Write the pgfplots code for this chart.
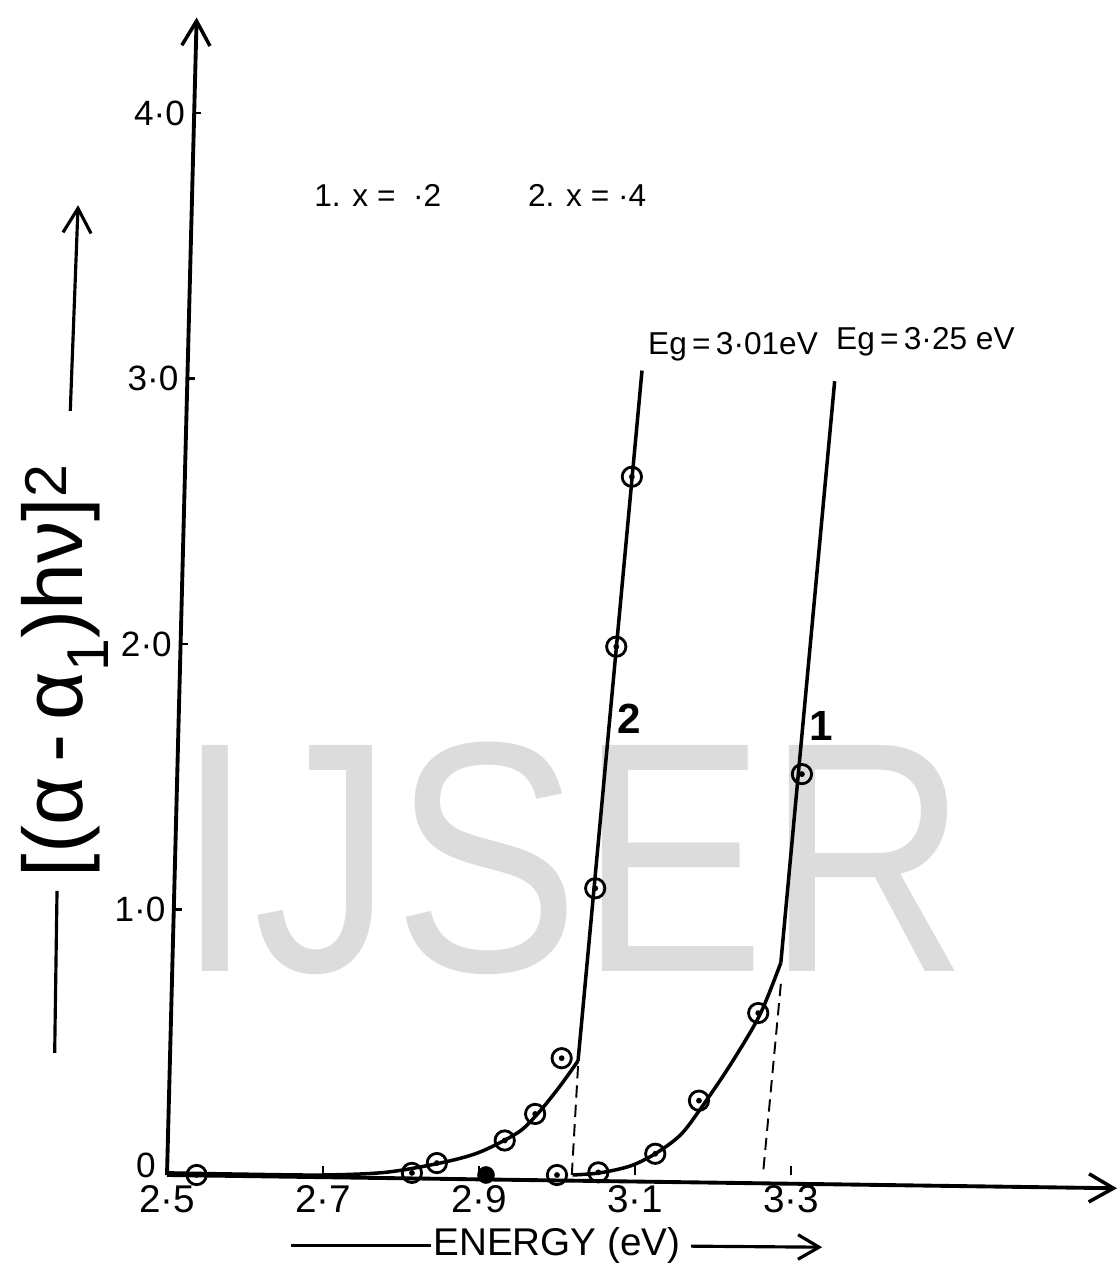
\documentclass[border=0pt]{standalone}
\usepackage{fontspec}
\setmainfont{Liberation Sans}
\usepackage{graphicx}
\usepackage{pgfplots}
\pgfplotsset{compat=1.18}
\usetikzlibrary{arrows.meta}

\definecolor{wm}{RGB}{220,220,220}

% open circle with a dot in the middle
\pgfdeclareplotmark{odot}{%
  \pgfpathcircle{\pgfpointorigin}{\pgfplotmarksize}\pgfusepathqstroke
  \pgfpathcircle{\pgfpointorigin}{0.3\pgfplotmarksize}\pgfusepathqfill}

\begin{document}
\begin{tikzpicture}
% light grey watermark behind the plot
\node[text=wm, inner sep=0pt, font=\fontsize{187}{190}\selectfont] at (8.1,6.34) {\scalebox{0.85}[1]{IJSER}};

\begin{axis}[
  scale only axis,
  width=18.96cm, height=23.15cm,
  xmin=2.5, xmax=3.7154, ymin=0, ymax=4.36,
  clip=false,
  axis x line=bottom, axis y line=left,
  axis line style={draw=none},
  xtick={2.5,2.7,2.9,3.1,3.3},
  xticklabels={2·5,2·7,2·9,3·1,3·3},
  ytick=\empty,
  tick align=inside,
  major tick length=5pt,
  xtick style={line width=1.2pt, black},
  xticklabel style={font=\fontsize{22}{24}\selectfont, inner sep=2pt, yshift=-4pt},
  every axis plot/.append style={line width=2pt, black},
]

% hand-ruled axes
\draw[line width=2.2pt, -{Straight Barb[length=14pt, width=16pt, line width=2pt]}]
  (axis cs:2.5,0) -- (axis cs:3.718,-0.05);
\draw[line width=2.2pt, -{Straight Barb[length=14pt, width=16pt, line width=2pt]}]
  (axis cs:2.5,0) -- (axis cs:2.538,4.36);

% y ticks and labels
\draw[line width=1.2pt] (axis cs:2.5083,1) -- (axis cs:2.5186,1);
\draw[line width=1.2pt] (axis cs:2.5167,2) -- (axis cs:2.5270,2);
\draw[line width=1.2pt] (axis cs:2.5250,3) -- (axis cs:2.5353,3);
\draw[line width=1.2pt] (axis cs:2.5333,4) -- (axis cs:2.5436,4);
\node[anchor=east, font=\fontsize{20}{22}\selectfont] at (axis cs:2.4935,0.035) {0};
\node[anchor=east, font=\fontsize{20}{22}\selectfont] at (axis cs:2.5058,1) {1·0};
\node[anchor=east, font=\fontsize{20}{22}\selectfont] at (axis cs:2.5141,2) {2·0};
\node[anchor=east, font=\fontsize{20}{22}\selectfont] at (axis cs:2.5225,3) {3·0};
\node[anchor=east, font=\fontsize{20}{22}\selectfont] at (axis cs:2.5308,4) {4·0};

% x = .4 : smooth rise below the gap
\addplot[black, no marks, smooth, tension=0.5] coordinates {
  (2.500,0.008) (2.600,0.003) (2.700,0.000) (2.780,0.010) (2.850,0.045)
  (2.900,0.085) (2.950,0.160) (2.975,0.230) (3.000,0.320) (3.015,0.380)
  (3.027,0.430)
};
% x = .4 : straight part
\addplot[black, no marks] coordinates {(3.027,0.430) (3.109,3.030)};
% x = .4 : extrapolation to the energy axis
\addplot[black, no marks, line width=1.1pt, dash pattern=on 7pt off 4pt] coordinates {(3.027,0.41) (3.019,0)};

% x = .2 : smooth rise below the gap
\addplot[black, no marks, smooth, tension=0.5] coordinates {
  (3.020,0.000) (3.055,0.008) (3.094,0.034) (3.126,0.080) (3.158,0.150)
  (3.183,0.245) (3.222,0.414) (3.260,0.603) (3.287,0.800)
};
% x = .2 : straight part
\addplot[black, no marks] coordinates {(3.287,0.800) (3.356,2.990)};
% x = .2 : extrapolation to the energy axis
\addplot[black, no marks, line width=1.1pt, dash pattern=on 7pt off 4pt] coordinates {(3.287,0.72) (3.264,0)};

% measured points, x = .4
\addplot[black, only marks, mark=odot, mark size=5.5pt, line width=1.6pt] coordinates {
  (2.538,0.000) (2.814,0.008) (2.846,0.045) (2.933,0.130) (2.972,0.230)
  (3.006,0.440) (3.049,1.080) (3.076,1.990) (3.096,2.630)
};
% measured points, x = .2
\addplot[black, only marks, mark=odot, mark size=5.5pt, line width=1.6pt] coordinates {
  (3.000,0.000) (3.053,0.010) (3.126,0.080) (3.182,0.280) (3.258,0.610)
  (3.314,1.510)
};
% single filled point on the axis
\addplot[black, only marks, mark=*, mark size=4pt] coordinates {(2.909,0)};

% curve labels
\node[font=\fontsize{24}{26}\selectfont\bfseries] at (axis cs:3.093,1.72) {2};
\node[font=\fontsize{24}{26}\selectfont\bfseries] at (axis cs:3.339,1.69) {1};
\node[anchor=west, font=\fontsize{18}{20}\selectfont] at (axis cs:3.109,3.12) {Eg\,=\,3·01eV};
\node[anchor=west, font=\fontsize{18}{20}\selectfont] at (axis cs:3.350,3.14) {Eg\,=\,3·25 eV};
\node[anchor=west, font=\fontsize{18}{20}\selectfont] at (axis cs:2.681,3.69) {1. x =\ \ ·2};
\node[anchor=west, font=\fontsize{18}{20}\selectfont] at (axis cs:2.955,3.69) {2. x = ·4};

% energy axis caption with arrow
\draw[line width=1.8pt] (axis cs:2.659,-0.264) -- (axis cs:2.838,-0.264);
\node[font=\fontsize{22}{24}\selectfont] at (axis cs:3.0,-0.264) {ENERGY (eV)};
\draw[line width=1.8pt, -{Straight Barb[length=12pt, width=14pt, line width=1.8pt]}]
  (axis cs:3.172,-0.268) -- (axis cs:3.340,-0.272);

% ordinate caption with arrow
\node[rotate=90, font=\fontsize{48}{52}\selectfont] at (axis cs:2.369,1.90)
  {[(α\,-\,α\textsubscript{1})hν]\textsuperscript{2}};
\draw[line width=1.8pt] (axis cs:2.356,0.46) -- (axis cs:2.359,1.07);
\draw[line width=1.8pt, -{Straight Barb[length=14pt, width=16pt, line width=1.8pt]}]
  (axis cs:2.376,2.878) -- (axis cs:2.386,3.653);
\end{axis}

\pgfresetboundingbox
\path (-3.34,-1.78) rectangle (19.04,23.5);
\end{tikzpicture}
\end{document}
